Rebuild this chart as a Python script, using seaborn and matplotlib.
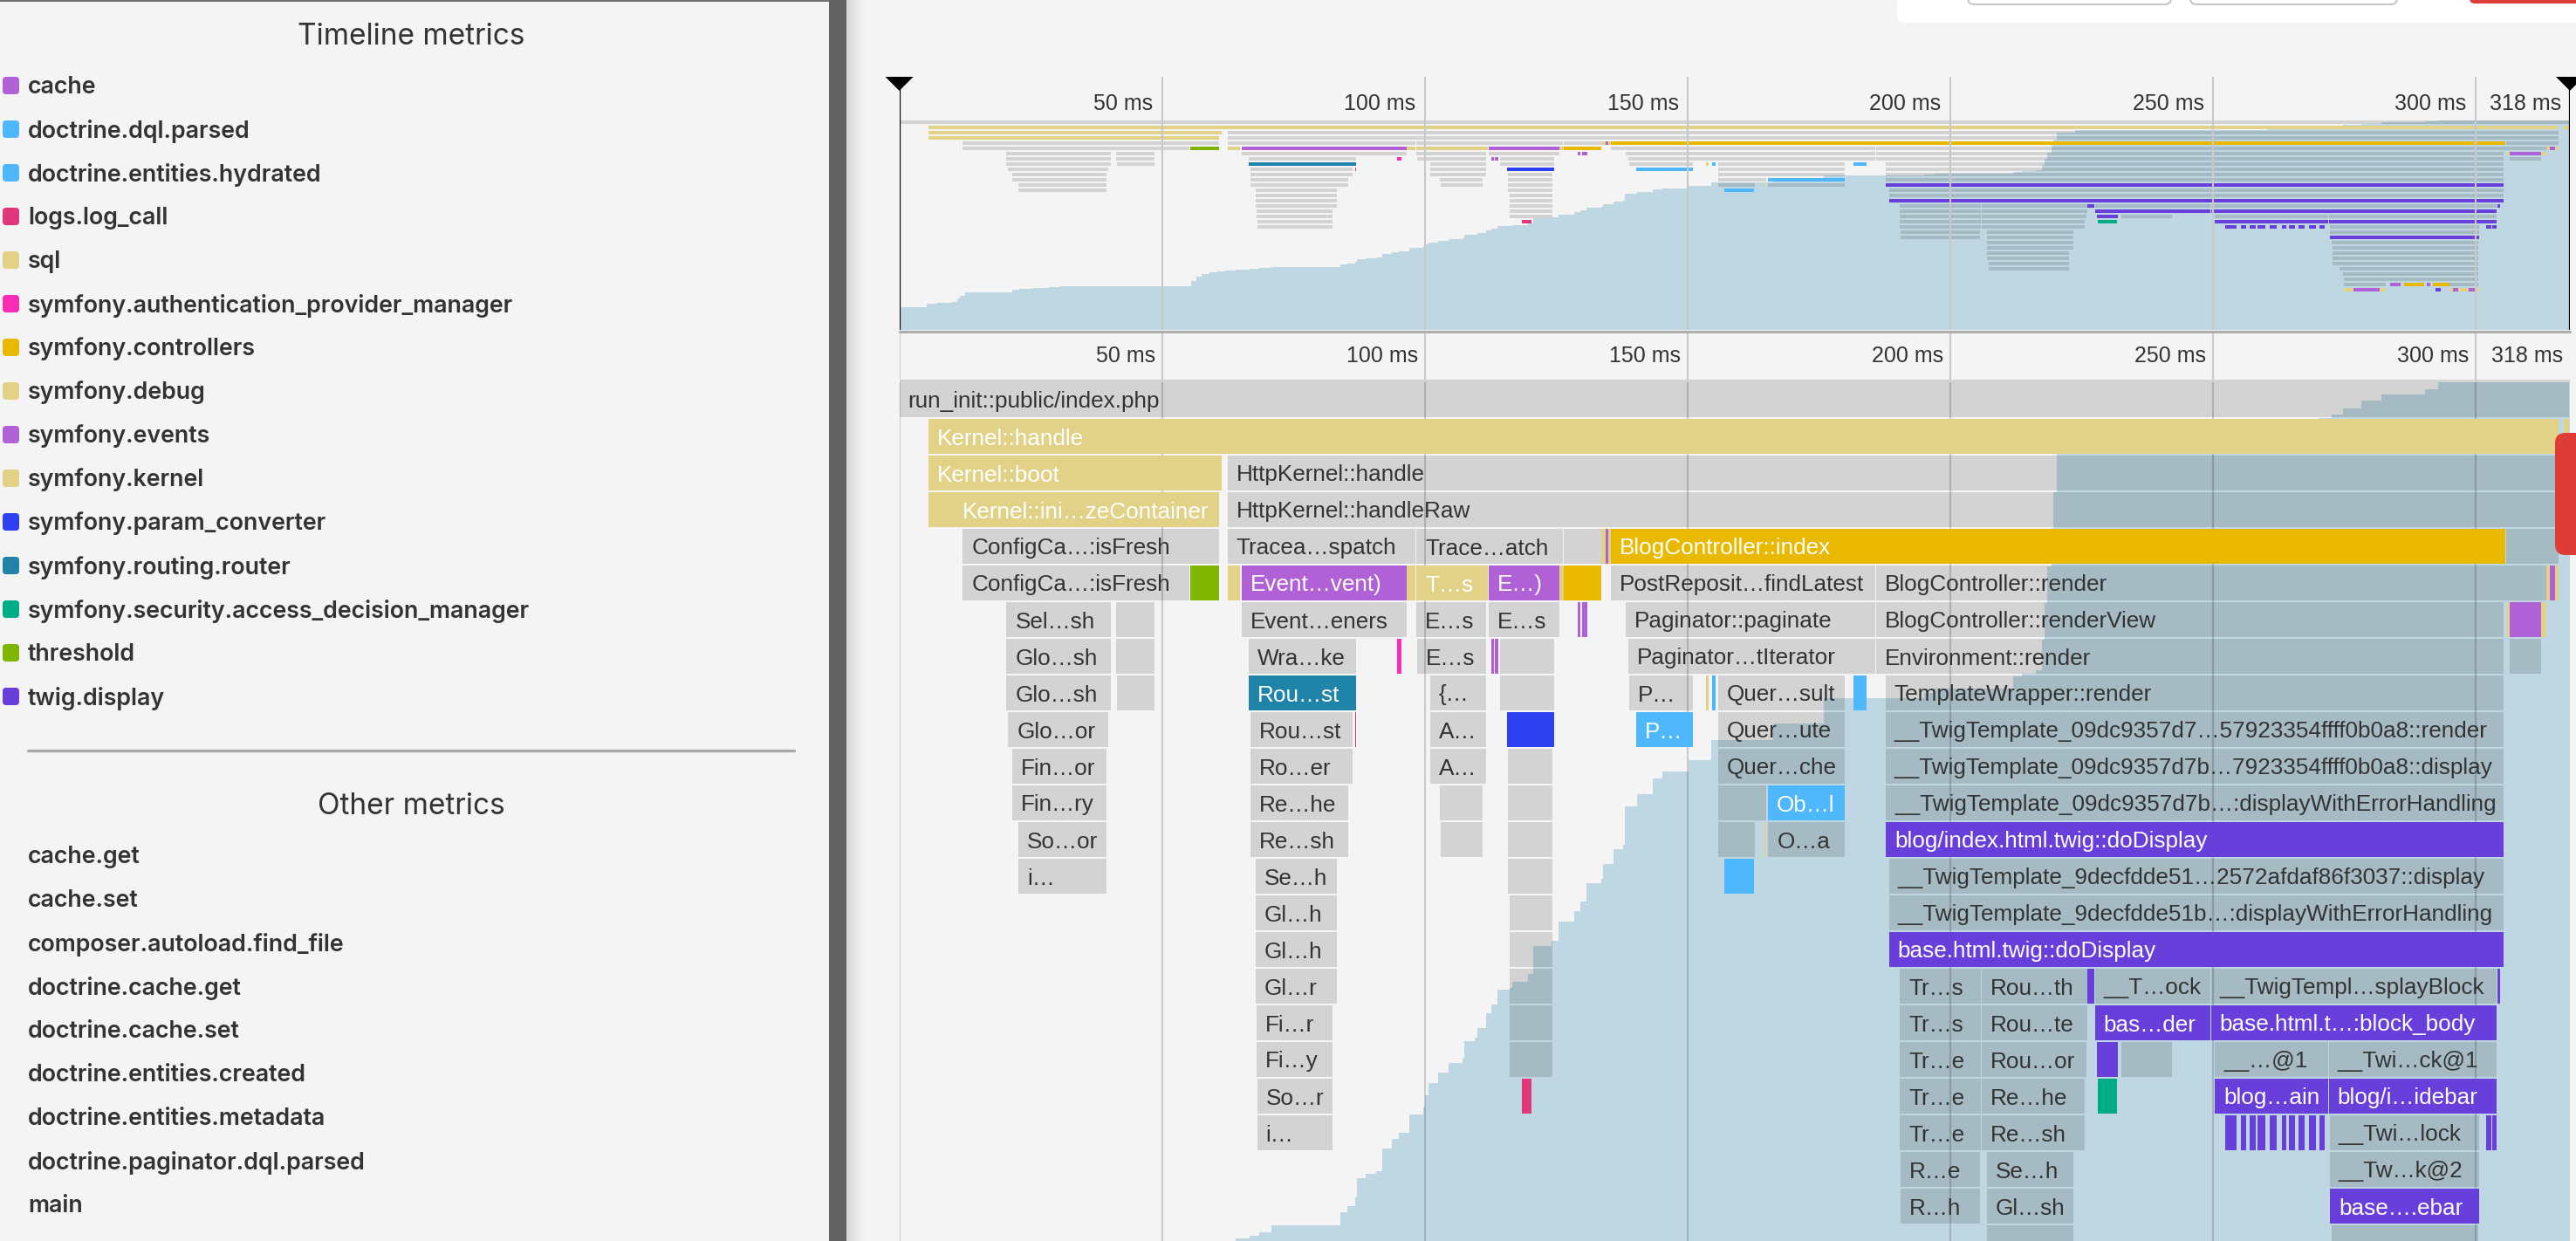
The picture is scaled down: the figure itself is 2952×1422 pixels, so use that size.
import numpy as np
import matplotlib
matplotlib.use('Agg')
import matplotlib.pyplot as plt
from matplotlib.patches import FancyBboxPatch, Polygon, Rectangle
import seaborn as sns

# ==========================================
# DATA
# ==========================================
timeline_metrics = ['cache', 'doctrine.dql.parsed', 'doctrine.entities.hydrated', 'logs.log_call', 'sql',
                    'symfony.authentication_provider_manager', 'symfony.controllers', 'symfony.debug',
                    'symfony.events', 'symfony.kernel', 'symfony.param_converter', 'symfony.routing.router',
                    'symfony.security.access_decision_manager', 'threshold', 'twig.display']
timeline_colors = ['#b161d6', '#4fb7fb', '#4fb7fb', '#e0377b', '#e1d288', '#fb2db4', '#e9b900', '#e1d288',
                   '#b161d6', '#e1d288', '#2f40f3', '#2083a8', '#00ac86', '#7fb400', '#683fdb']
other_metrics = ['cache.get', 'cache.set', 'composer.autoload.find_file', 'doctrine.cache.get', 'doctrine.cache.set',
                 'doctrine.entities.created', 'doctrine.entities.metadata', 'doctrine.paginator.dql.parsed', 'main']

time_ticks = [50, 100, 150, 200, 250, 300, 318]

# memory usage curve, fraction of the peak
mem_ms = [0, 5.2, 7, 9.9, 11, 11.5, 12.5, 21.5, 22.9, 25.3, 28.4, 30.6, 54.9, 55.6, 56.5, 57.5, 59.1, 60.5, 62,
          64, 66.6, 68.5, 70.9, 84, 85.2, 86.8, 87.1, 88.7, 90.8, 92, 93.8, 95, 97.1, 99.8, 100, 100.8, 102.5, 104.6,
          107.2, 107.5, 109.5, 110, 111.7, 112.7, 113.8, 116.2, 116.7, 119.7, 120.7, 124.2, 125.4, 128.4, 129.7,
          130.8, 133.7, 134, 136, 137.7, 138.1, 140.4, 143.5, 145.3, 150.2, 154.5, 166.3, 176, 195, 197, 212.1,
          213.7, 216.4, 217.5, 218, 218.5, 219.3, 219.6, 220.3, 223.8, 260.6, 270.2, 272.7, 274.8, 278.3, 282.2,
          290.4, 292.9, 318]
mem_frac = [.108, .125, .130, .135, .151, .164, .179, .193, .197, .200, .205, .208, .208, .235, .255, .265, .274, .279,
            .283, .289, .291, .294, .300, .311, .316, .323, .339, .343, .345, .364, .372, .377, .392, .398, .408, .418,
            .427, .435, .439, .453, .456, .464, .476, .483, .496, .497, .502, .509, .532, .536, .552, .561, .569, .584,
            .588, .600, .612, .616, .648, .658, .671, .677, .686, .703, .717, .738, .742, .746, .756, .758, .761, .786,
            .817, .847, .879, .909, .941, .954, .957, .970, .973, .978, .985, .990, .994, 1.0, 1.0]

# one small list per flame row: (start ms, end ms, metric, label)
GRAY, YEL, PUR, GOLD, BLU, TWIG, PINK, RED, TEAL, GRN, DBL, SEC = ('none', 'sql', 'cache', 'symfony.controllers',
    'doctrine.dql.parsed', 'twig.display', 'symfony.authentication_provider_manager', 'logs.log_call',
    'symfony.routing.router', 'threshold', 'symfony.param_converter', 'symfony.security.access_decision_manager')

row_00 = [(0, 317.8, GRAY, 'run_init::public/index.php')]
row_01 = [(5.5, 315.9, YEL, 'Kernel::handle'), (316.9, 317.8, YEL, '')]
row_02 = [(5.5, 61.4, YEL, 'Kernel::boot'), (62.5, 315.9, GRAY, 'HttpKernel::handle')]
row_03 = [(5.5, 10.3, YEL, ''), (10.4, 60.9, YEL, 'Kernel::ini…zeContainer'), (62.5, 315.9, GRAY, 'HttpKernel::handleRaw')]
row_04 = [(12.1, 55.2, GRAY, 'ConfigCa…:isFresh'), (55.2, 60.9, GRAY, ''), (62.5, 98.2, GRAY, 'Tracea…spatch'),
          (98.4, 126.3, GRAY, 'Trace…atch'), (126.5, 133.6, GRAY, ''), (133.6, 134.4, YEL, ''), (134.4, 135, PUR, ''),
          (135, 135.5, YEL, ''), (135.5, 305.7, GOLD, 'BlogController::index'), (305.8, 315.9, GRAY, '')]
row_05 = [(12.1, 55.2, GRAY, 'ConfigCa…:isFresh'), (55.3, 60.9, GRN, ''), (62.5, 64.8, YEL, ''),
          (65.1, 96.5, PUR, 'Event…vent)'), (96.6, 98.2, YEL, ''), (98.4, 112.1, YEL, 'T…s'), (112.2, 125.6, PUR, 'E…)'),
          (125.6, 126.4, YEL, ''), (126.5, 133.6, GOLD, ''), (135.5, 185.8, GRAY, 'PostReposit…findLatest'),
          (185.9, 305.8, GRAY, 'BlogController::render'), (305.9, 313.6, GRAY, ''), (313.6, 314.2, YEL, ''),
          (314.2, 315.1, PUR, ''), (315.1, 315.9, YEL, '')]
row_06 = [(20.4, 40.3, GRAY, 'Sel…sh'), (41.3, 48.5, GRAY, ''), (65.1, 96.5, GRAY, 'Event…eners'), (98.4, 111.7, GRAY, 'E…s'),
          (112.2, 125.6, GRAY, 'E…s'), (129.1, 129.7, PUR, ''), (130, 131, PUR, ''),
          (138.2, 185.8, GRAY, 'Paginator::paginate'), (185.9, 305.4, GRAY, 'BlogController::renderView'),
          (306, 306.5, YEL, ''), (306.5, 312.5, PUR, ''), (312.5, 313.5, YEL, '')]
row_07 = [(20.4, 40.3, GRAY, 'Glo…sh'), (41.3, 48.5, GRAY, ''), (66.5, 87, GRAY, 'Wra…ke'), (94.8, 95.5, PINK, ''),
          (98.5, 111.7, GRAY, 'E…s'), (112.7, 113.2, PUR, ''), (113.4, 114, PUR, ''), (114.3, 124.7, GRAY, ''),
          (138.8, 185.8, GRAY, 'Paginator…tIterator'), (185.9, 305.4, GRAY, 'Environment::render'), (306.5, 312.5, GRAY, '')]
row_08 = [(20.4, 40.3, GRAY, 'Glo…sh'), (41.4, 48.5, GRAY, ''), (66.5, 87, TEAL, 'Rou…st'), (101, 111.7, GRAY, '{…'),
          (114.4, 124.7, GRAY, ''), (138.9, 151.1, GRAY, 'P…'), (153.5, 154.1, YEL, ''), (154.7, 155.4, BLU, ''),
          (155.9, 180, GRAY, 'Quer…sult'), (181.6, 184.1, BLU, ''), (187.7, 305.4, GRAY, 'TemplateWrapper::render')]
row_09 = [(20.7, 39.7, GRAY, 'Glo…or'), (66.8, 86.2, GRAY, 'Rou…st'), (86.7, 87, RED, ''), (101, 111.7, GRAY, 'A…'),
          (115.7, 124.6, DBL, ''), (140.3, 151.1, BLU, 'P…'), (155.9, 180, GRAY, 'Quer…ute'),
          (187.7, 305.4, GRAY, '__TwigTemplate_09dc9357d7…57923354ffff0b0a8::render')]
row_10 = [(21.5, 39.4, GRAY, 'Fin…or'), (66.8, 86.2, GRAY, 'Ro…er'), (101, 111.7, GRAY, 'A…'), (115.9, 124.4, GRAY, ''),
          (155.9, 180, GRAY, 'Quer…che'), (187.7, 305.4, GRAY, '__TwigTemplate_09dc9357d7b…7923354ffff0b0a8::display')]
row_11 = [(21.5, 39.4, GRAY, 'Fin…ry'), (66.8, 85.4, GRAY, 'Re…he'), (102.9, 111, GRAY, ''), (115.9, 124.4, GRAY, ''),
          (155.9, 165, GRAY, ''), (165.3, 180, BLU, 'Ob…l'),
          (187.8, 305.4, GRAY, '__TwigTemplate_09dc9357d7b…:displayWithErrorHandling')]
row_12 = [(22.7, 39.4, GRAY, 'So…or'), (66.8, 85.4, GRAY, 'Re…sh'), (103.1, 111, GRAY, ''), (115.9, 124.4, GRAY, ''),
          (155.9, 162.9, GRAY, ''), (164.5, 164.8, YEL, ''), (165.4, 180, GRAY, 'O…a'),
          (187.8, 305.4, TWIG, 'blog/index.html.twig::doDisplay')]
row_13 = [(22.7, 39.4, GRAY, 'i…'), (67.8, 83.3, GRAY, 'Se…h'), (115.9, 124.4, GRAY, ''), (157, 162.7, BLU, ''),
          (188.4, 305.4, GRAY, '__TwigTemplate_9decfdde51…2572afdaf86f3037::display')]
row_14 = [(67.8, 83.3, GRAY, 'Gl…h'), (116.1, 124.4, GRAY, ''),
          (188.4, 305.4, GRAY, '__TwigTemplate_9decfdde51b…:displayWithErrorHandling')]
row_15 = [(67.8, 83.3, GRAY, 'Gl…h'), (116.1, 124.4, GRAY, ''), (188.4, 305.4, TWIG, 'base.html.twig::doDisplay')]
row_16 = [(67.8, 83.3, GRAY, 'Gl…r'), (116.1, 124.3, GRAY, ''), (190.5, 205.8, GRAY, 'Tr…s'), (206, 226.2, GRAY, 'Rou…th'),
          (226.2, 227.4, TWIG, ''), (227.6, 249.5, GRAY, '__T…ock'), (249.7, 304, GRAY, '__TwigTempl…splayBlock'),
          (304.2, 304.8, TWIG, '')]
row_17 = [(68, 82.5, GRAY, 'Fi…r'), (116.1, 124.3, GRAY, ''), (190.5, 205.8, GRAY, 'Tr…s'), (206, 226.2, GRAY, 'Rou…te'),
          (227.6, 249.5, TWIG, 'bas…der'), (249.7, 304, TWIG, 'base.html.t…:block_body')]
row_18 = [(68, 82.5, GRAY, 'Fi…y'), (116.1, 124.3, GRAY, ''), (190.5, 205.8, GRAY, 'Tr…e'), (206, 226, GRAY, 'Rou…or'),
          (228, 231.9, TWIG, ''), (232.6, 242.3, GRAY, ''), (250.4, 272, GRAY, '__…@1'), (272.1, 304, GRAY, '__Twi…ck@1')]
row_19 = [(68.1, 82.5, GRAY, 'So…r'), (118.5, 120.4, RED, ''), (190.5, 205.8, GRAY, 'Tr…e'), (206, 225.6, GRAY, 'Re…he'),
          (228.2, 231.8, SEC, ''), (250.4, 272, TWIG, 'blog…ain'), (272.1, 304, TWIG, 'blog/i…idebar')]
row_20 = [(68.1, 82.5, GRAY, 'i…'), (190.5, 205.8, GRAY, 'Tr…e'), (206, 225.6, GRAY, 'Re…sh'),
          (252.4, 254.5, TWIG, ''), (255.4, 256.3, TWIG, ''), (257, 258.2, TWIG, ''), (258.6, 260, TWIG, ''),
          (260.9, 262.2, TWIG, ''), (263.2, 264, TWIG, ''), (264.5, 265.7, TWIG, ''), (266.4, 267.5, TWIG, ''),
          (268.4, 269.7, TWIG, ''), (270.3, 271.3, TWIG, ''), (272.3, 300.8, GRAY, '__Twi…lock'),
          (302, 303, TWIG, ''), (303.3, 304, TWIG, '')]
row_21 = [(190.6, 205.7, GRAY, 'R…e'), (207, 223.5, GRAY, 'Se…h'), (272.3, 300.8, GRAY, '__Tw…k@2')]
row_22 = [(190.6, 205.7, GRAY, 'R…h'), (207, 223.5, GRAY, 'Gl…sh'), (272.3, 300.8, TWIG, 'base….ebar')]
row_23 = [(207, 223.5, GRAY, 'Gl…sh'), (272.7, 300.6, GRAY, 'HttpK…tegy')]
row_24 = [(207, 223.5, GRAY, ''), (272.8, 300.6, GRAY, '')]
row_25 = [(207, 222.7, GRAY, ''), (272.8, 300.6, GRAY, '')]
row_26 = [(207, 222.7, GRAY, ''), (272.8, 300.6, GRAY, '')]
row_27 = [(207.4, 222.7, GRAY, ''), (272.8, 300.6, GRAY, '')]
row_28 = [(207.4, 222.7, GRAY, ''), (274.1, 300.6, GRAY, '')]
row_29 = [(274.8, 300.6, GRAY, '')]
row_30 = [(275, 300.6, GRAY, '')]
row_31 = [(275, 283, GRAY, ''), (283.8, 285.7, PUR, ''), (286.4, 290.3, GOLD, ''), (290.8, 291.4, PUR, ''),
          (291.9, 295, GOLD, ''), (295, 300.6, GRAY, '')]
row_32 = [(275, 276.8, YEL, ''), (276.8, 281.8, PUR, ''), (281.8, 283, YEL, ''), (292.4, 293.4, TWIG, ''),
          (295, 295.7, YEL, ''), (295.7, 296.8, PUR, ''), (296.8, 298.8, YEL, ''), (298.8, 300, PUR, ''),
          (300, 300.7, YEL, '')]
flame_rows = [row_00, row_01, row_02, row_03, row_04, row_05, row_06, row_07, row_08, row_09, row_10, row_11, row_12,
              row_13, row_14, row_15, row_16, row_17, row_18, row_19, row_20, row_21, row_22, row_23, row_24, row_25,
              row_26, row_27, row_28, row_29, row_30, row_31, row_32]

# ==========================================
# STYLING
# ==========================================
W, H = 2952, 1422
BG = '#f4f4f4'
INK = '#333333'
MEM = '#bfd7e2'
sns.set_theme(style='white')
plt.rcParams['font.family'] = ['Liberation Sans', 'DejaVu Sans']
metric_palette = dict(zip(timeline_metrics, sns.color_palette(timeline_colors)))


def px_axes(fig, left, top, right, bottom):
    """Axes placed by image pixels (y counted from the top of the picture)."""
    ax = fig.add_axes([left / W, 1 - bottom / H, (right - left) / W, (bottom - top) / H])
    ax.set_axis_off()
    return ax


def draw_spans(ax, height, labels):
    for row, spans in enumerate(flame_rows):
        for start, end, metric, label in spans:
            if metric == GRAY:
                ax.barh(row + height / 2, end - start, height, left=start, color='black', alpha=0.135, lw=0, zorder=3)
            else:
                ax.barh(row + height / 2, end - start, height, left=start, color=metric_palette[metric], lw=0, zorder=4)
            if labels and label:
                ax.annotate(label, (start, row + height / 2), xytext=(7.2, 0), textcoords='offset points',
                            ha='left', va='center_baseline', fontsize=18.8, zorder=6,
                            color=INK if metric == GRAY else 'white')


def tick_labels(ax, y_row, gap):
    for t in time_ticks:
        ax.annotate(f'{t} ms', (t, y_row), xytext=(-gap, 0), textcoords='offset points', ha='right', va='center',
                    fontsize=18, color=INK, annotation_clip=False)


fig = plt.figure(figsize=(W / 100, H / 100), dpi=100, facecolor=BG)

# ==========================================
# OVERVIEW
# ==========================================
X0, X1 = 1030.6, 2945.0
MS_MAX = (X1 - X0) / 6.02
frac = np.array(mem_frac)

ov = px_axes(fig, X0, 88, X1, 378)
ov.set_xlim(0, MS_MAX)
ov.set_ylim(40, -50 / 6)
ov.fill_between(mem_ms, 40, (1 - frac) * 40, step='post', color=MEM, lw=0, zorder=1)
draw_spans(ov, 4 / 6, False)
for t in time_ticks[:-1]:
    ov.axvline(t, color='#c8c8c8', lw=1.5, zorder=5)
tick_labels(ov, (119 - 138) / 6, 7.2)
ov.axvline(0, color='black', lw=1.6, zorder=7)
ov.axvline(MS_MAX, color='black', lw=1.6, zorder=7)

# ==========================================
# FLAME CHART
# ==========================================
fl = px_axes(fig, X0, 380, X1, H)
fl.set_xlim(0, MS_MAX)
fl.set_ylim((H - 438) / 42, (380 - 438) / 42)
fl.fill_between(mem_ms, 40, (1 - frac) * 1380 / 42, step='post', color=MEM, lw=0, zorder=1)
draw_spans(fl, 40 / 42, True)
for t in [0] + time_ticks[:-1]:
    fl.axvline(t, color='black', alpha=0.17, lw=1.5, zorder=2)
fl.axhline(-2 / 42, color='#d0d0d0', lw=2, zorder=2)
tick_labels(fl, (408 - 438) / 42, 5.5)

# ==========================================
# SIDEBAR AND PAGE CHROME (pixel coordinates)
# ==========================================
page = px_axes(fig, 0, 0, W, H)
page.set_zorder(10)
page.patch.set_alpha(0)
page.add_patch(Rectangle((0, 0), 950, 2, color='#707070', lw=0))
page.add_patch(Rectangle((950, 0), 20, H, color='#626262', lw=0))
page.imshow(np.linspace(0.84, 0.957, 20)[None, :], extent=(970, 990, H, 0), cmap='gray', vmin=0, vmax=1, aspect='auto')
page.set_xlim(0, W)
page.set_ylim(H, 0)

# overview baseline and window handles
page.plot([X0, X1], [379.5, 379.5], color='#adadad', lw=2.2)
for x in (X0, X1):
    page.add_patch(Polygon([(x - 16, 88), (x + 16, 88), (x, 104)], color='black', lw=0))

# top right toolbar and right side handle
page.add_patch(FancyBboxPatch((2174, -30), 850, 56, boxstyle='round,pad=0,rounding_size=9', fc='white', ec='none'))
page.add_patch(FancyBboxPatch((2255, -20), 233, 25, boxstyle='round,pad=0,rounding_size=7', fc='white', ec='#c6c6c6', lw=1.5))
page.add_patch(FancyBboxPatch((2510, -20), 237, 25, boxstyle='round,pad=0,rounding_size=7', fc='white', ec='#c6c6c6', lw=1.5))
page.add_patch(FancyBboxPatch((2830, -20), 160, 24, boxstyle='round,pad=0,rounding_size=6', fc='#de3c37', ec='none'))
page.add_patch(FancyBboxPatch((2928, 496), 60, 140, boxstyle='round,pad=0,rounding_size=12', fc='#de3c37', ec='none'))

SIDE_FONT = ['Inter', 'DejaVu Sans']
page.text(471, 42, 'Timeline metrics', ha='center', va='center', fontsize=24, color=INK, family=SIDE_FONT)
for i, (name, col) in enumerate(zip(timeline_metrics, timeline_colors)):
    y = 98 + i * 50
    page.add_patch(FancyBboxPatch((3, y - 10), 19, 20, boxstyle='round,pad=0,rounding_size=4', fc=col, ec='none'))
    page.text(32, y + 2, name, ha='left', va='center', fontsize=19.3, color=INK, family=SIDE_FONT, fontweight='semibold')
page.plot([32, 910], [860, 860], color='#aaaaaa', lw=2.4)
page.text(471, 924, 'Other metrics', ha='center', va='center', fontsize=24, color=INK, family=SIDE_FONT)
for i, name in enumerate(other_metrics):
    page.text(32, 982 + i * 50, name, ha='left', va='center', fontsize=19.3, color=INK, family=SIDE_FONT, fontweight='semibold')

sns.despine(fig=fig, left=True, bottom=True)
fig.savefig('out.png', dpi=100, facecolor=BG)
